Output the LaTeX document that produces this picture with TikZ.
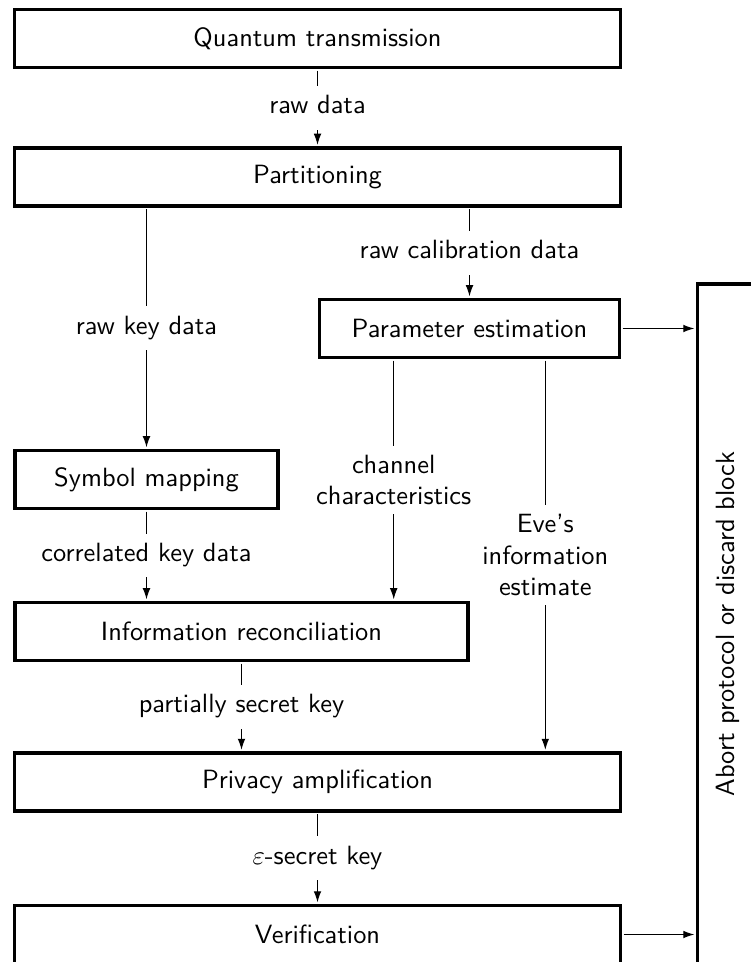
\documentclass[tikz,border=0pt]{standalone}
\usetikzlibrary{arrows.meta,calc}
% one drawing unit = one pixel of the final image
\newcommand\pxu{0.3788pt}
\begin{document}
\begin{tikzpicture}[x=0.3788pt, y=-0.3788pt, font=\sffamily,
  stage/.style={draw, line width=1.2pt, rectangle, minimum height=58*\pxu, inner sep=0pt},
  flow/.style={-{Latex[length=4.2pt,width=2.9pt]}, line width=0.4pt,
               shorten >=0.6pt, shorten <=0.6pt},
  lbl/.style={fill=white, inner sep=3.5pt, text height=7pt, text depth=2.5pt},
  lblm/.style={fill=white, inner sep=3.5pt, align=center},
]
\useasboundingbox (0,0) rectangle (750,962);

% processing stages
\node[stage, minimum width=606*\pxu] (qt)   at (317.5,38.5)  {Quantum transmission};
\node[stage, minimum width=606*\pxu] (part) at (317.5,177)   {Partitioning};
\node[stage, minimum width=300*\pxu] (pe)   at (469.5,328.5) {Parameter estimation};
\node[stage, minimum width=263*\pxu] (sm)   at (146.5,479.5) {Symbol mapping};
\node[stage, minimum width=453*\pxu] (ir)   at (241.5,631.5) {Information reconciliation};
\node[stage, minimum width=606*\pxu] (pa)   at (317.5,782)   {Privacy amplification};
\node[stage, minimum width=606*\pxu] (ver)  at (317.5,934.5) {Verification};
\node[stage, minimum width=61*\pxu, minimum height=680*\pxu] (abort) at (728,624)
  {\rotatebox{90}{Abort protocol or discard block}};

% tap points on the lower edge of the parameter estimation box
\coordinate (pe1) at ($(pe.south west)!0.25!(pe.south east)$);
\coordinate (pe3) at ($(pe.south west)!0.75!(pe.south east)$);

% data flow
\draw[flow] (qt) -- node[lbl]{raw data} (part);
\draw[flow] (part.south -| sm.north) -- node[lbl]{raw key data} (sm.north);
\draw[flow] (part.south -| pe.north) -- node[lbl]{raw calibration data} (pe.north);
\draw[flow] (pe.east) -- (pe.east -| abort.west);
\draw[flow] (pe1) -- node[lblm]{channel\\characteristics} (pe1 |- ir.north);
\draw[flow] (pe3) -- node[lblm]{Eve's\\information\\estimate} (pe3 |- pa.north);
\draw[flow] (sm) -- node[lbl]{correlated key data} (sm.south |- ir.north);
\draw[flow] (ir) -- node[lbl]{partially secret key} (ir.south |- pa.north);
\draw[flow] (pa) -- node[lbl]{$\varepsilon$-secret key} (ver);
\draw[flow] (ver.east) -- (ver.east -| abort.west);
\end{tikzpicture}
\end{document}
